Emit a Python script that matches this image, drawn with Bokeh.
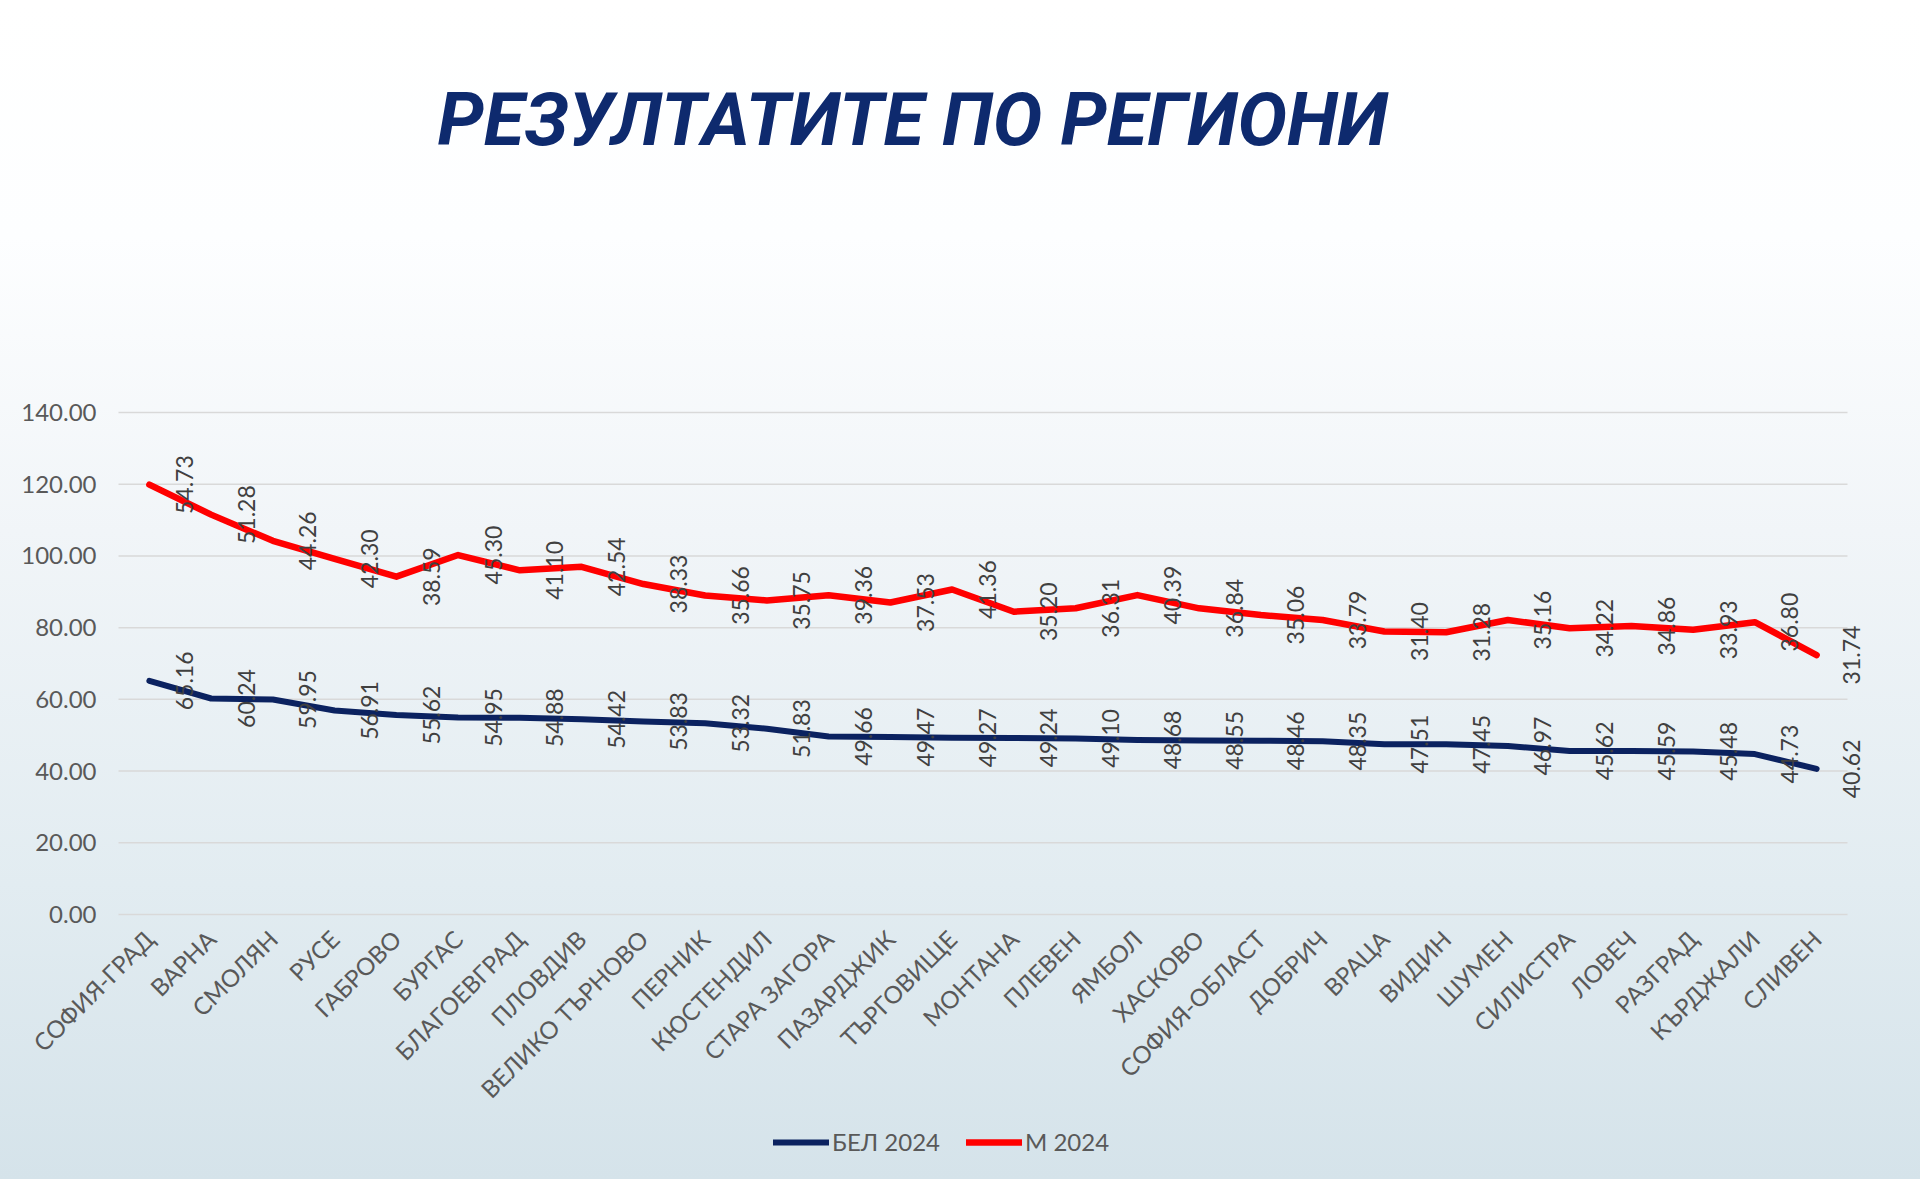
import math
from bokeh.plotting import figure
from bokeh.models import (ColumnDataSource, FixedTicker, PrintfTickFormatter, Range1d,
                          Legend, LegendItem, Title)
from bokeh.transform import stack
from bokeh.core.properties import value
from bokeh.embed import file_html
from bokeh.resources import INLINE

regions = ["СОФИЯ-ГРАД", "ВАРНА", "СМОЛЯН", "РУСЕ", "ГАБРОВО", "БУРГАС", "БЛАГОЕВГРАД",
           "ПЛОВДИВ", "ВЕЛИКО ТЪРНОВО", "ПЕРНИК", "КЮСТЕНДИЛ", "СТАРА ЗАГОРА", "ПАЗАРДЖИК",
           "ТЪРГОВИЩЕ", "МОНТАНА", "ПЛЕВЕН", "ЯМБОЛ", "ХАСКОВО", "СОФИЯ-ОБЛАСТ", "ДОБРИЧ",
           "ВРАЦА", "ВИДИН", "ШУМЕН", "СИЛИСТРА", "ЛОВЕЧ", "РАЗГРАД", "КЪРДЖАЛИ", "СЛИВЕН"]
bel_2024 = [65.16, 60.24, 59.95, 56.91, 55.62, 54.95, 54.88, 54.42, 53.83, 53.32, 51.83,
            49.66, 49.47, 49.27, 49.24, 49.10, 48.68, 48.55, 48.46, 48.35, 47.51, 47.45,
            46.97, 45.62, 45.59, 45.48, 44.73, 40.62]
m_2024 = [54.73, 51.28, 44.26, 42.30, 38.59, 45.30, 41.10, 42.54, 38.33, 35.66, 35.75,
          39.36, 37.53, 41.36, 35.20, 36.31, 40.39, 36.84, 35.06, 33.79, 31.40, 31.28,
          35.16, 34.22, 34.86, 33.93, 36.80, 31.74]
y_ticks = [0, 20, 40, 60, 80, 100, 120, 140]
title_text = "РЕЗУЛТАТИТЕ ПО РЕГИОНИ"
series_names = ["БЕЛ 2024", "М 2024"]

BLUE = "#0b2260"
RED = "#ff0000"
LABEL = "#595959"
FONT = "Lato"

n = len(regions)
idx = list(range(n))
src = ColumnDataSource(dict(
    x=idx, bel=bel_2024, m=m_2024,
    bel_txt=["%.2f" % v for v in bel_2024],
    m_txt=["%.2f" % v for v in m_2024],
))
grid_src = ColumnDataSource(dict(y=y_ticks, x0=[-0.5] * len(y_ticks), x1=[n - 0.5] * len(y_ticks)))

# layout geometry (pixels)
W, H = 1920, 1179
PLOT_L, PLOT_R = 118, 1847            # where the category bands start / end
Y_TOP, Y_ZERO = 412, 914              # pixel rows of 140 and 0
FRAME_TOP = 380                       # frame starts a little above the top gridline
step = (PLOT_R - PLOT_L) / n
x_start = -0.5 - PLOT_L / step        # frame covers the full width so no label is clipped
x_end = -0.5 + (W - PLOT_L) / step
px_per_unit = (Y_ZERO - Y_TOP) / max(y_ticks)
y_start = -(H - Y_ZERO) / px_per_unit   # frame continues down to the bottom edge
y_end = max(y_ticks) + (Y_TOP - FRAME_TOP) / px_per_unit

p = figure(width=W, height=H, output_backend="svg", toolbar_location=None,
           x_range=Range1d(x_start, x_end), y_range=Range1d(y_start, y_end),
           min_border_left=0, min_border_right=0, min_border_top=FRAME_TOP,
           min_border_bottom=0)
p.styles = {"background": "linear-gradient(to bottom, #ffffff 0%, #fdfeff 20%, #f1f5f8 45%, #e2ecf1 75%, #d5e3ea 100%)"}
p.background_fill_alpha = 0
p.border_fill_alpha = 0
p.outline_line_color = None

# spacer (closest to frame) then the real title
spacer = Title(text=" ", text_font_size="10px", standoff=237 - (Y_TOP - FRAME_TOP))
p.add_layout(spacer, "above")
t = Title(text=title_text, text_font="Roboto", text_font_size="74px",
          text_font_style="bold italic", text_color="#0e2a6e", align="left",
          offset=437, standoff=0)
p.add_layout(t, "above")

# gridlines (span the category bands)
p.segment("x0", "y", "x1", "y", source=grid_src, line_color="#d9d9d9", line_width=1.5)

# lines
r_bel = p.line("x", stack("bel"), source=src, line_color=BLUE, line_width=6,
               line_join="round", line_cap="round")
r_m = p.line("x", stack("bel", "m"), source=src, line_color=RED, line_width=6.5,
             line_join="round", line_cap="round")

# data labels (rotated, to the right of each point)
p.text("x", stack("bel"), text="bel_txt", source=src, angle=math.pi / 2,
       x_offset=35, text_align="center", text_baseline="middle",
       text_font=value(FONT), text_font_size="23px", text_color="#404040")
p.text("x", stack("bel", "m"), text="m_txt", source=src, angle=math.pi / 2,
       x_offset=35, text_align="center", text_baseline="middle",
       text_font=value(FONT), text_font_size="23px", text_color="#404040")

# axes
p.xaxis.fixed_location = 0
p.xaxis.ticker = FixedTicker(ticks=idx)
p.xaxis.major_label_overrides = {i: r for i, r in enumerate(regions)}
p.xaxis.major_label_orientation = math.pi / 4
p.xaxis.axis_line_color = None
p.xaxis.major_tick_line_color = None
p.xaxis.minor_tick_line_color = None
p.xaxis.major_label_text_font = FONT
p.xaxis.major_label_text_font_size = "24px"
p.xaxis.major_label_text_color = LABEL
p.xaxis.major_label_standoff = 14

p.yaxis.fixed_location = -0.5
p.yaxis.ticker = FixedTicker(ticks=y_ticks)
p.yaxis.formatter = PrintfTickFormatter(format="%.2f")
p.yaxis.axis_line_color = None
p.yaxis.major_tick_line_color = None
p.yaxis.minor_tick_line_color = None
p.yaxis.major_label_text_font = FONT
p.yaxis.major_label_text_font_size = "24px"
p.yaxis.major_label_text_color = LABEL
p.yaxis.major_label_standoff = 16

p.xgrid.grid_line_color = None
p.ygrid.grid_line_color = None

legend = Legend(items=[LegendItem(label=series_names[0], renderers=[r_bel]),
                       LegendItem(label=series_names[1], renderers=[r_m])],
                orientation="horizontal", location=(773, 23),
                background_fill_alpha=0, border_line_color=None,
                label_text_font=FONT, label_text_font_size="24px",
                label_text_color=LABEL, glyph_width=56, label_standoff=3,
                spacing=26, padding=0, margin=0)
p.add_layout(legend, "center")

open("out.html", "w").write(file_html(p, INLINE))
